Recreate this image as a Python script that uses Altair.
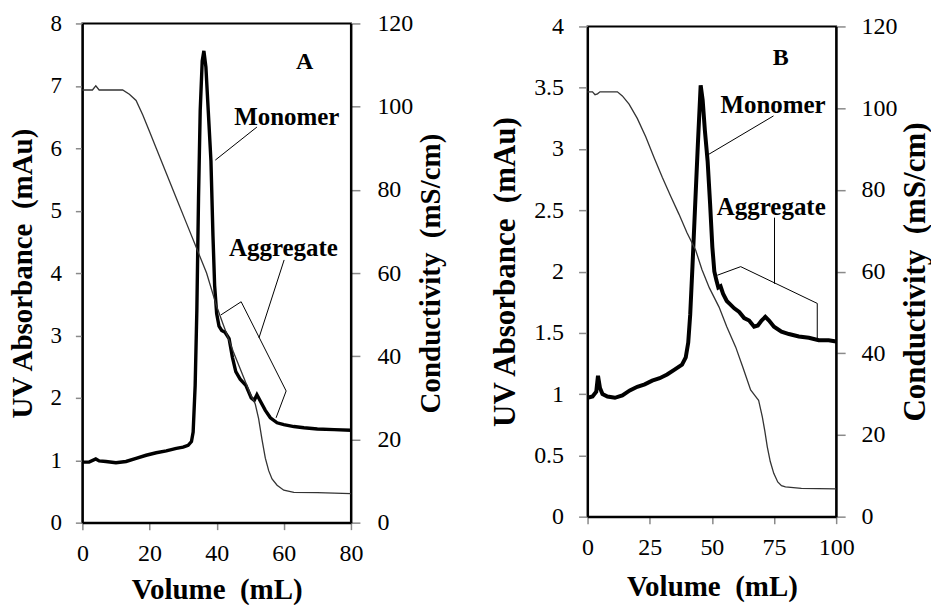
import altair as alt
import pandas as pd

# ---------------- Panel A data ----------------
A_UV_VOL = [0, 2, 4, 5, 7, 10, 13, 16, 19, 22, 25, 28, 30, 31.5, 32.5, 33.0, 33.6, 34.1, 34.6, 35.1,
            35.7, 36.2, 36.8, 37.5, 38.3, 38.9, 39.4, 40.0, 40.7, 41.5, 42.5, 43.7, 44.7, 45.7, 47,
            48.7, 50.3, 51.2, 52.0, 53.0, 54.5, 56, 58, 60, 63, 66, 70, 75, 80]
A_UV_ABS = [0.97, 0.97, 1.02, 0.99, 0.98, 0.96, 0.98, 1.03, 1.08, 1.12, 1.15, 1.19, 1.21, 1.24, 1.3, 1.45, 2.2, 3.4, 5.2, 6.6,
            7.4, 7.56, 7.3, 6.6, 5.8, 4.6, 3.8, 3.35, 3.15, 3.08, 3.05, 2.95, 2.65, 2.42, 2.3,
            2.2, 2.0, 1.96, 2.05, 1.95, 1.8, 1.68, 1.6, 1.57, 1.54, 1.52, 1.5, 1.49, 1.48]
A_COND_VOL = [0, 3, 4, 5, 12, 14, 16, 18, 20, 22, 25, 28, 31, 34, 37, 40, 42, 45, 48, 50,
              51.5, 52.5, 53.5, 54.5, 55.5, 56.5, 58, 60, 63, 70, 80]
A_COND_VAL = [104, 104, 105, 104, 104, 103, 101.5, 98, 94, 90, 84, 78, 72, 66, 60, 52, 47.5, 41, 35, 31,
              28.5, 25, 20, 15.5, 12.5, 10.5, 9, 7.8, 7.3, 7.2, 7.0]
A_SEG_X1 = [52.0, 60.1, 41.3, 47.3, 60.7]
A_SEG_Y1 = [6.34, 4.21, 3.33, 3.54, 2.11]
A_SEG_X2 = [39.6, 52.6, 47.3, 60.7, 57.7]
A_SEG_Y2 = [5.81, 2.96, 3.54, 2.11, 1.68]
A_LABELS = ["Monomer", "Aggregate"]
A_LABEL_X = [60.9, 59.9]
A_LABEL_Y = [6.5, 4.4]
A_TAG = ["A"]
A_TAG_X = [66.2]
A_TAG_Y = [7.39]

# ---------------- Panel B data ----------------
B_UV_VOL = [0, 2, 3.5, 4.2, 5, 6, 8, 11, 14, 17, 20, 23, 26, 29, 32, 35, 38, 39.5, 40.5, 41.3,
            42.2, 43.3, 44.4, 45.5, 46.3, 47.2, 48.3, 49.3, 50.2, 51.0, 51.8, 52.6, 53.5, 54.5, 56, 57.5,
            59, 61, 63, 65, 67, 68.5, 70, 71.5, 73, 75, 78, 81, 85, 89, 93, 97, 100]
B_UV_ABS = [0.97, 0.98, 1.02, 1.15, 1.05, 1.0, 0.98, 0.97, 0.99, 1.03, 1.06, 1.08, 1.11, 1.13, 1.16, 1.2, 1.24, 1.3, 1.42, 1.65,
            2.04, 2.55, 3.05, 3.52, 3.4, 3.15, 2.9, 2.55, 2.2, 2.0, 1.93, 1.87, 1.88, 1.82, 1.76, 1.73,
            1.7, 1.67, 1.62, 1.6, 1.55, 1.56, 1.6, 1.63, 1.6, 1.55, 1.51, 1.49, 1.47, 1.46, 1.44, 1.44, 1.43]
B_COND_VOL = [0, 2, 3, 4, 5, 12, 14, 16.7, 20, 23.4, 26.7, 30.1, 33.4, 36.8, 40, 43.5, 46, 49, 52.9, 56,
              59.6, 62.5, 65.6, 67.5, 68.8, 70.3, 71.3, 72.3, 73.5, 74.9, 76.5, 78, 79.6, 86, 100]
B_COND_VAL = [104, 104, 103.3, 103.5, 104, 104, 103, 101, 97.5, 93, 88, 83, 78.5, 74, 69.5, 65.2, 60.5, 56, 51.3, 46.5,
              41.5, 36.5, 31, 29.5, 28.5, 24.4, 21, 17.1, 13.5, 10.6, 8.5, 7.6, 7.3, 6.9, 6.8]
B_SEG_X1 = [74.8, 75.2, 52.2, 61.6, 92.4]
B_SEG_Y1 = [3.27, 2.44, 1.97, 2.04, 1.74]
B_SEG_X2 = [48.2, 75.2, 61.6, 92.4, 92.4]
B_SEG_Y2 = [2.95, 1.90, 2.04, 1.74, 1.45]
B_LABELS = ["Monomer", "Aggregate"]
B_LABEL_X = [74.6, 73.9]
B_LABEL_Y = [3.36, 2.53]
B_TAG = ["B"]
B_TAG_X = [77.7]
B_TAG_Y = [3.74]

SERIF = "Liberation Serif, Times New Roman, Times, DejaVu Serif, serif"


def panel(uv_vol, uv_abs, c_vol, c_val, sx1, sy1, sx2, sy2, labels, lx, ly, tag, tx, ty,
          xmax, xvals, ymax, yvals, width, height, yfs, ylabfs, ytick, ylabpad, rfs, rtick, rlabpad,
          ytitlepad, rtitlepad, uvw, xtitlepad):
    uv = pd.DataFrame({"vol": uv_vol, "abs": uv_abs})
    cond = pd.DataFrame({"vol": c_vol, "ms": c_val})
    seg = pd.DataFrame({"x1": sx1, "y1": sy1, "x2": sx2, "y2": sy2})
    lab = pd.DataFrame({"x": lx, "y": ly, "t": labels})
    tg = pd.DataFrame({"x": tx, "y": ty, "t": tag})

    xsc = alt.Scale(domain=[0, xmax], nice=False, zero=False)
    xax = alt.Axis(values=xvals, title="Volume\u00a0 (mL)", titleFontSize=29, labelFontSize=24,
                   tickSize=7, labelPadding=12, titlePadding=xtitlepad, labelFlush=False,
                   labelFont=SERIF, titleFont=SERIF)
    ysc = alt.Scale(domain=[0, ymax], nice=False, zero=False)
    yax = alt.Axis(values=yvals, format="~g", title="UV Absorbance\u00a0 (mAu)", titleFontSize=yfs,
                   labelFontSize=ylabfs, tickSize=ytick, labelPadding=ylabpad, titlePadding=ytitlepad,
                   labelFlush=False, labelFont=SERIF, titleFont=SERIF)
    rsc = alt.Scale(domain=[0, 120], nice=False, zero=False)
    rax = alt.Axis(orient="right", values=[0, 20, 40, 60, 80, 100, 120], title="Conductivity\u00a0 (mS/cm)",
                   titleFontSize=rfs, titleAngle=270, titleBaseline="top", labelFontSize=24,
                   tickSize=rtick, labelPadding=rlabpad, titlePadding=rtitlepad, labelFlush=False,
                   labelFont=SERIF, titleFont=SERIF)

    uv_line = alt.Chart(uv).mark_line(color="black", strokeWidth=uvw).encode(
        x=alt.X("vol:Q", scale=xsc, axis=xax),
        y=alt.Y("abs:Q", scale=ysc, axis=yax),
        order="vol:Q",
    )
    rules = alt.Chart(seg).mark_rule(color="black", strokeWidth=1).encode(
        x=alt.X("x1:Q", scale=xsc, axis=xax), x2="x2:Q",
        y=alt.Y("y1:Q", scale=ysc, axis=yax), y2="y2:Q",
    )
    texts = alt.Chart(lab).mark_text(font=SERIF, fontWeight="bold", fontSize=25, color="black",
                                     align="center", baseline="middle").encode(
        x=alt.X("x:Q", scale=xsc, axis=xax),
        y=alt.Y("y:Q", scale=ysc, axis=yax),
        text="t:N",
    )
    tags = alt.Chart(tg).mark_text(font=SERIF, fontWeight="bold", fontSize=24, color="black",
                                   align="center", baseline="middle").encode(
        x=alt.X("x:Q", scale=xsc, axis=xax),
        y=alt.Y("y:Q", scale=ysc, axis=yax),
        text="t:N",
    )
    left = alt.layer(uv_line, rules, texts, tags)
    cond_line = alt.Chart(cond).mark_line(color="#333333", strokeWidth=1.3).encode(
        x=alt.X("vol:Q", scale=xsc, axis=xax),
        y=alt.Y("ms:Q", scale=rsc, axis=rax),
        order="vol:Q",
    )
    return alt.layer(left, cond_line).resolve_scale(y="independent").properties(width=width, height=height)


pa = panel(A_UV_VOL, A_UV_ABS, A_COND_VOL, A_COND_VAL, A_SEG_X1, A_SEG_Y1, A_SEG_X2, A_SEG_Y2,
           A_LABELS, A_LABEL_X, A_LABEL_Y, A_TAG, A_TAG_X, A_TAG_Y,
           80, [0, 20, 40, 60, 80], 8, [0, 1, 2, 3, 4, 5, 6, 7, 8], 269, 500,
           29, 23, 7, 14, 29, 9, 17, 12, 3.5, 3.4, 10)
pb = panel(B_UV_VOL, B_UV_ABS, B_COND_VOL, B_COND_VAL, B_SEG_X1, B_SEG_Y1, B_SEG_X2, B_SEG_Y2,
           B_LABELS, B_LABEL_X, B_LABEL_Y, B_TAG, B_TAG_X, B_TAG_Y,
           100, [0, 25, 50, 75, 100], 4, [0, 0.5, 1, 1.5, 2, 2.5, 3, 3.5, 4], 249, 491,
           31, 24, 9, 15, 31, 9, 16, 12, 3, 4.0, 13)

chart = alt.hconcat(pa, pb, spacing=42, center=True).properties(
    padding={"left": 7.5, "top": 10, "right": 0, "bottom": 0},
    background="white",
).configure_view(stroke="black", strokeWidth=2).configure_axis(
    grid=False, domainColor="black", domainWidth=2, tickColor="#8a8a8a", tickWidth=1.5,
    labelFont=SERIF, labelColor="black", titleFont=SERIF, titleFontWeight="bold", titleColor="black",
).configure_text(font=SERIF)

chart.save("out.html", embed_options={"renderer": "svg", "actions": False})
